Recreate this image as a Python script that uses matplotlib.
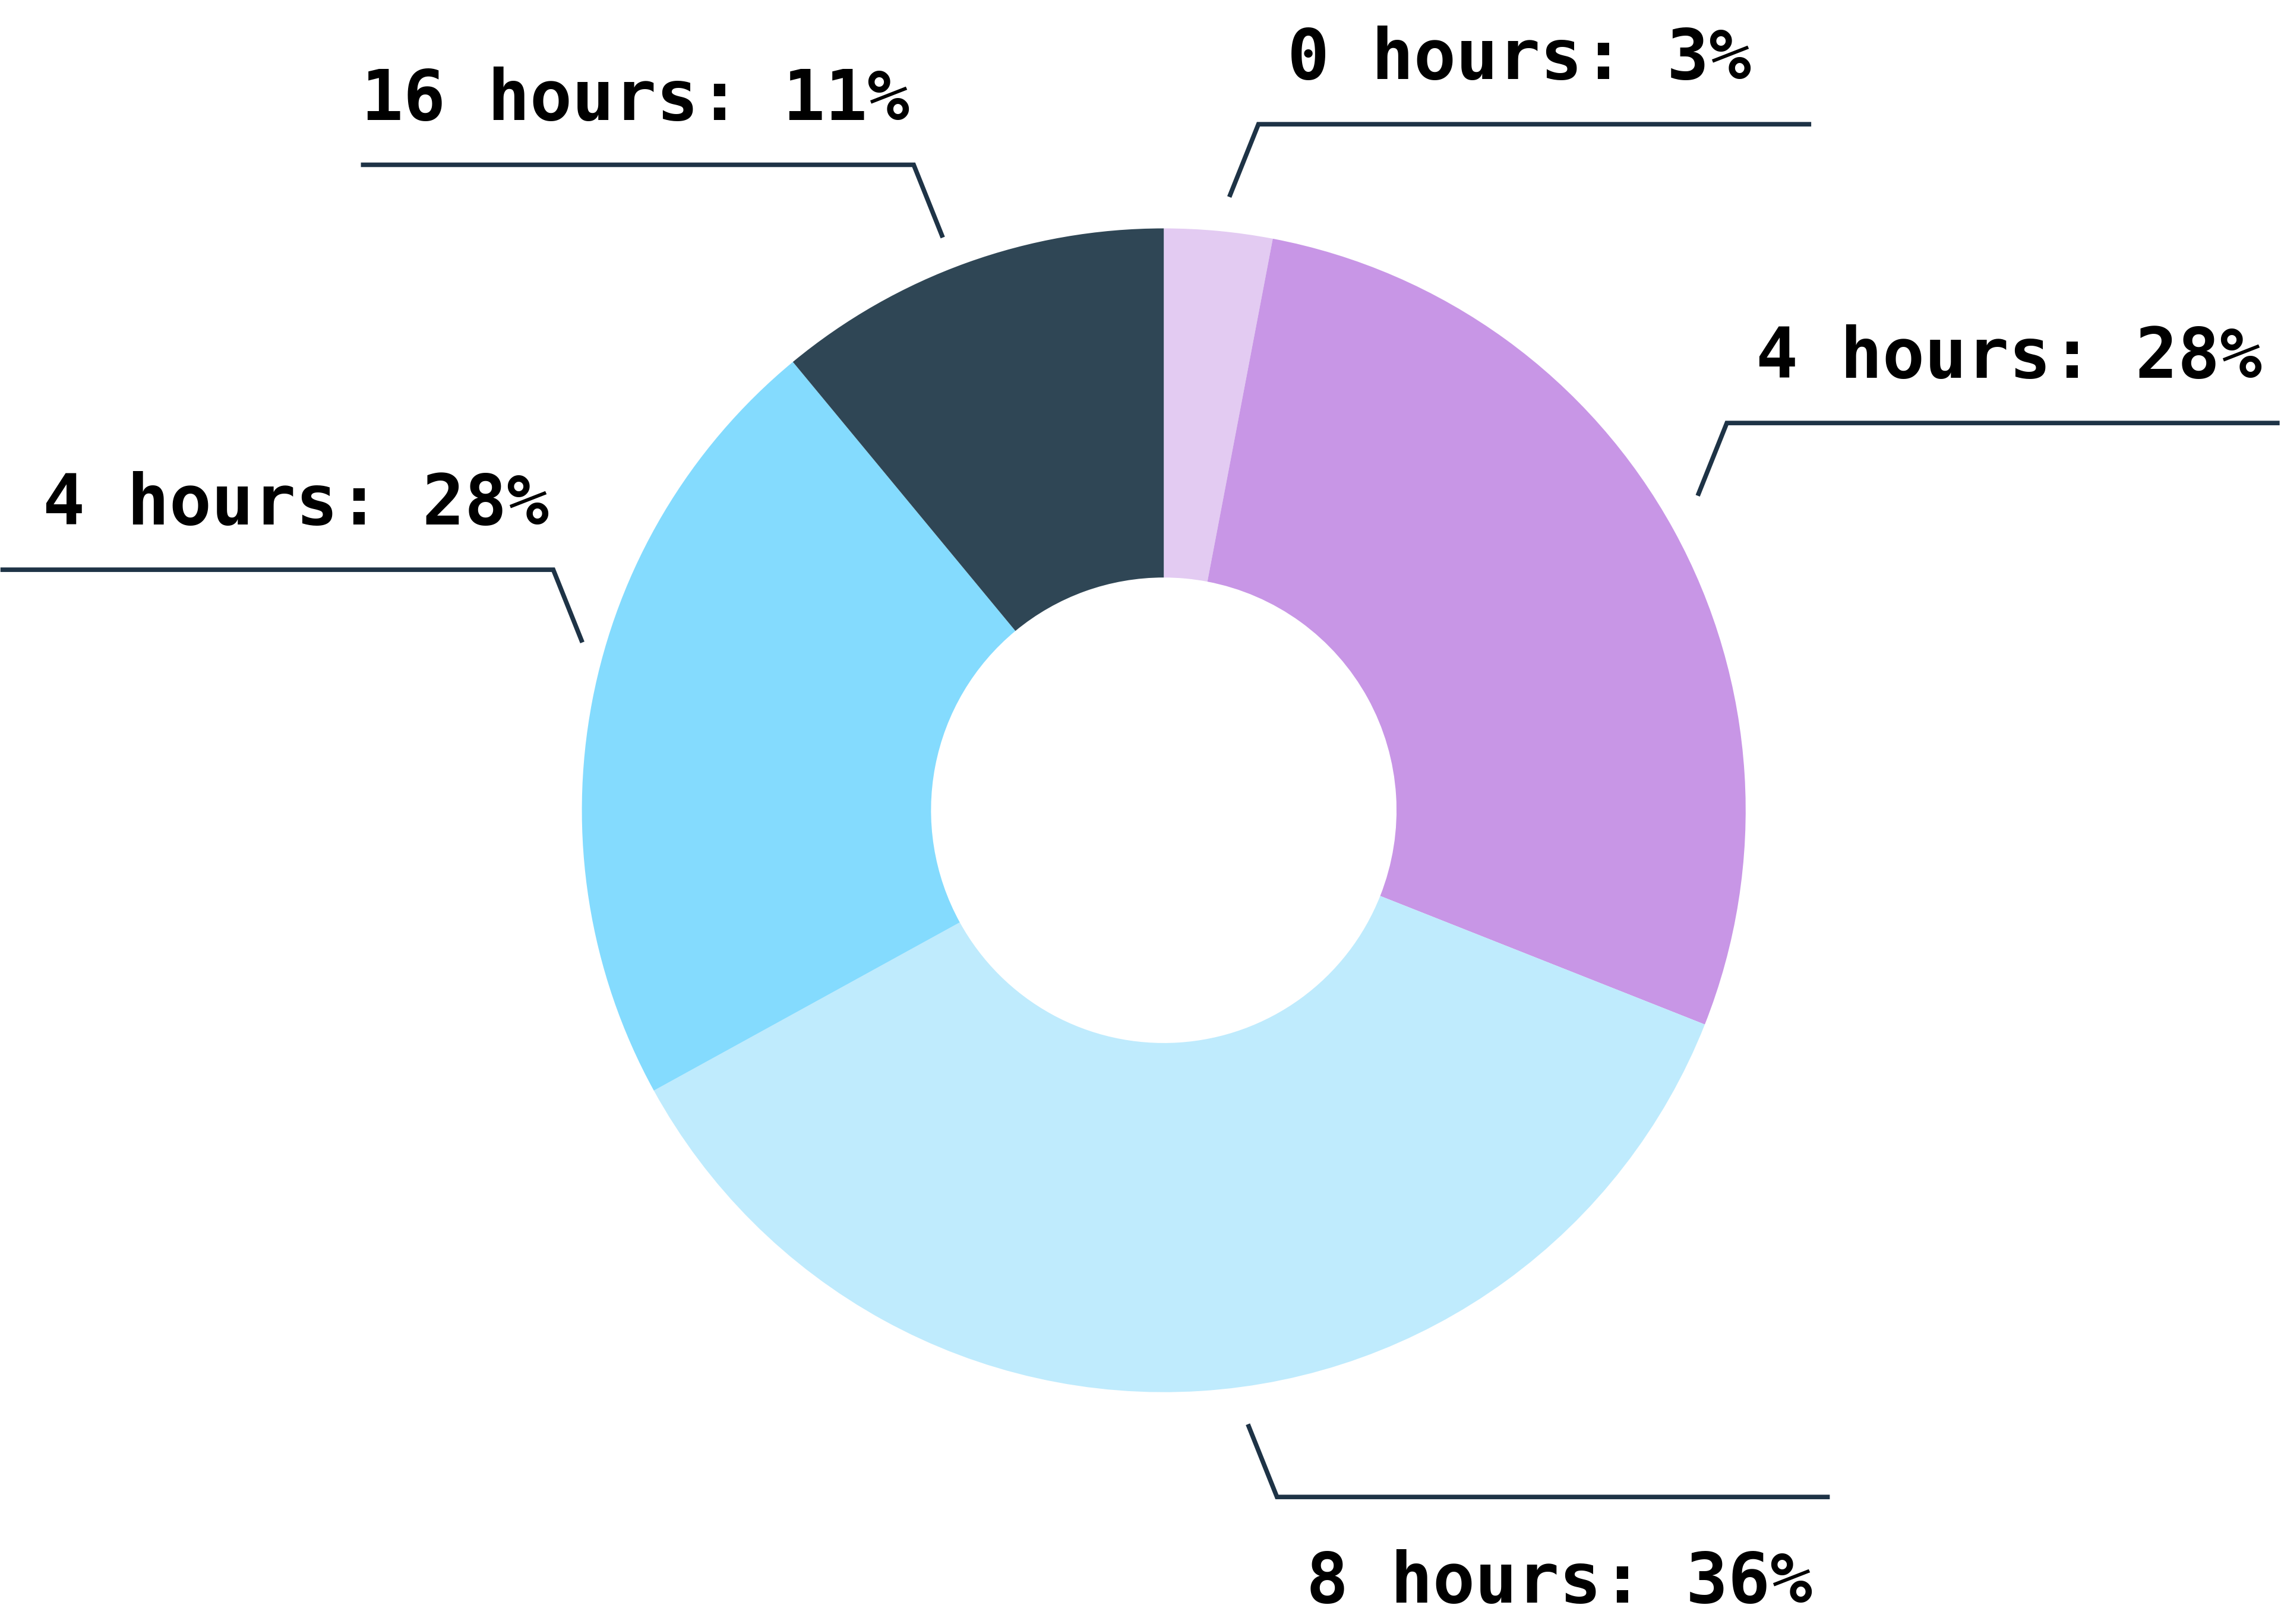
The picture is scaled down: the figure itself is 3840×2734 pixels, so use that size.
import numpy as np
import matplotlib.pyplot as plt

# ==========================================================
# DATA
# ==========================================================

categories = ["0 hours", "4 hours", "8 hours", "4 hours", "16 hours"]
shares = [3, 28, 36, 22, 11]           # slice sizes as drawn
label_pct = ["3%", "28%", "36%", "28%", "11%"]   # printed labels
colors = ["#E3CBF2", "#C896E6", "#BFEBFD", "#84DBFE", "#2F4655"]

# ==========================================================
# LAYOUT (canvas units, y up)
# ==========================================================

W = 1568.0
H = W * 2734 / 3840
CX, CY = 800.0, H - 557.0
R_OUT, R_IN = 400.0, 160.0
angle_nudge = [0.7, -1.7, -4.2, 5.3, -1.3]     # degrees, leader anchor tweak
lead_scale = [1.06, 1.065, 1.065, 1.04, 1.055]  # leader anchor radius / R_OUT
LINE_COLOR = "#1E3346"

fig = plt.figure(figsize=(38.4, 27.34), dpi=100)
ax = fig.add_axes([0, 0, 1, 1])

wedges, _ = ax.pie(
    shares,
    colors=colors,
    startangle=90,
    counterclock=False,
    radius=R_OUT,
    center=(CX, CY),
    wedgeprops=dict(width=R_OUT - R_IN, linewidth=0, antialiased=True),
)

ax.set_aspect("auto")
ax.set_xlim(0, W)
ax.set_ylim(0, H)
ax.axis("off")

# ==========================================================
# LEADER LINES + LABELS
# ==========================================================

total = float(sum(shares))
cum = 0.0
for i, (cat, val) in enumerate(zip(categories, shares)):
    mid = (cum + val / 2) / total * 360.0 + angle_nudge[i]
    cum += val
    th = np.deg2rad(mid)
    r = lead_scale[i] * R_OUT
    sx = CX + r * np.sin(th)
    sy = CY + r * np.cos(th)

    right = np.sin(th) >= 0
    up = np.cos(th) >= 0
    hx = 1 if right else -1
    vy = 1 if up else -1

    ex, ey = sx + 20 * hx, sy + 50 * vy
    fx = ex + 380 * hx

    ax.plot([sx, ex, fx], [sy, ey, ey], color=LINE_COLOR, lw=5.5,
            solid_joinstyle="miter", solid_capstyle="butt")

    txt = f"{cat}: {label_pct[i]}"
    tx = ex + 20 if right else ex - 3
    ha = "left" if right else "right"
    if up:
        ax.text(tx, ey + 31, txt, ha=ha, va="baseline", fontsize=85,
                family="DejaVu Sans Mono", fontweight="bold", color="black")
    else:
        ax.text(tx, ey - 36, txt, ha=ha, va="top", fontsize=85,
                family="DejaVu Sans Mono", fontweight="bold", color="black")

fig.savefig("out.png", dpi=100, facecolor="white")
plt.close(fig)
